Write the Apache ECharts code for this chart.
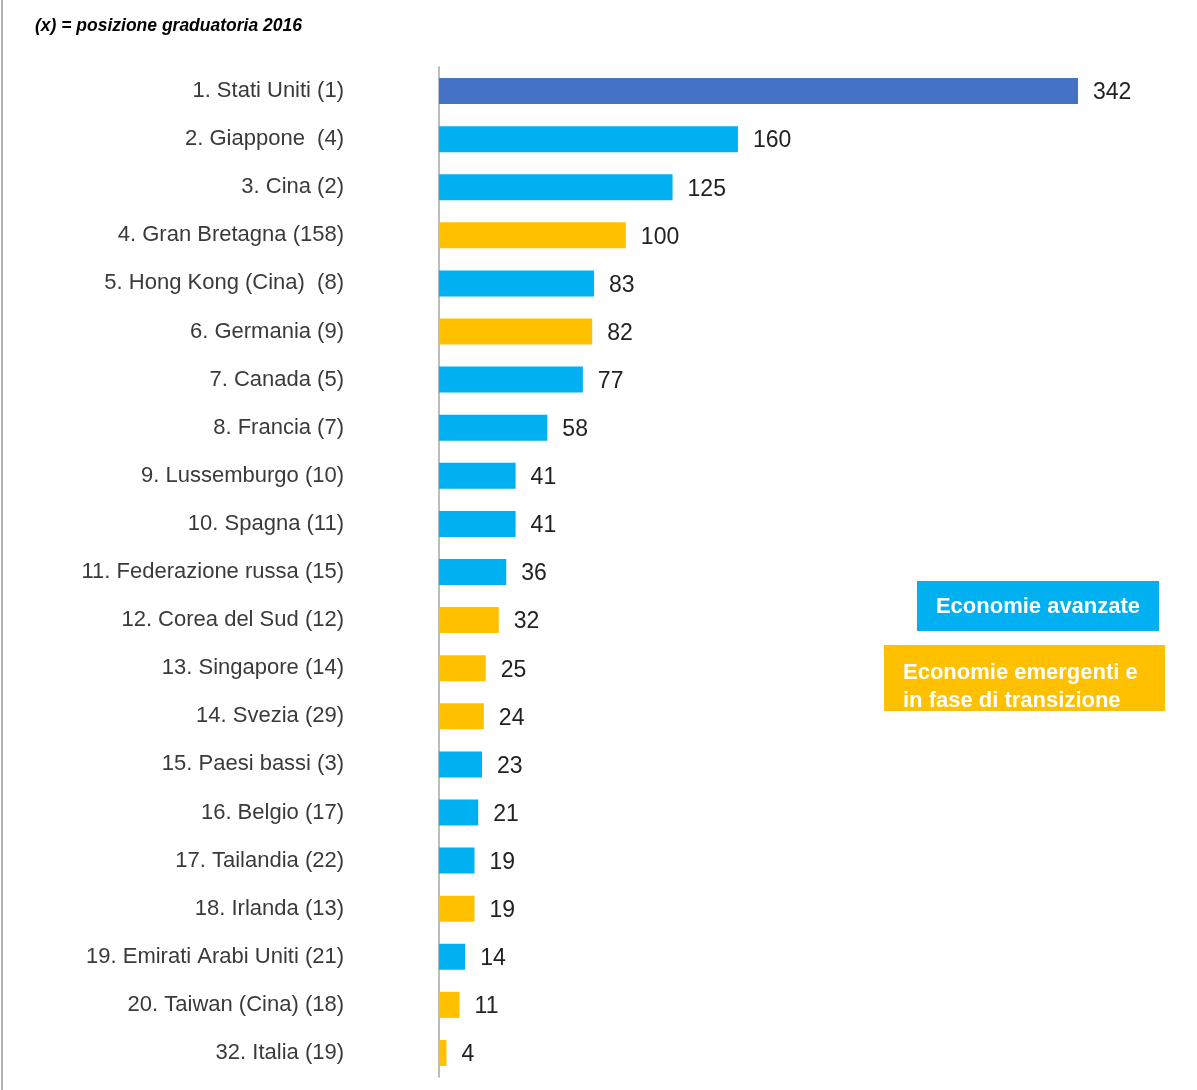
<!DOCTYPE html>
<html>
<head>
<meta charset="utf-8">
<script src="https://cdn.jsdelivr.net/npm/echarts@6/dist/echarts.min.js"></script>
<style>
  html, body { margin: 0; padding: 0; background: #fff; }
  #chart { width: 1197px; height: 1090px; }
</style>
</head>
<body>
<div id="chart"></div>
<script>
var categories = [
    '1. Stati Uniti (1)', '2. Giappone  (4)', '3. Cina (2)', '4. Gran Bretagna (158)',
    '5. Hong Kong (Cina)  (8)', '6. Germania (9)', '7. Canada (5)', '8. Francia (7)',
    '9. Lussemburgo (10)', '10. Spagna (11)', '11. Federazione russa (15)', '12. Corea del Sud (12)',
    '13. Singapore (14)', '14. Svezia (29)', '15. Paesi bassi (3)', '16. Belgio (17)',
    '17. Tailandia (22)', '18. Irlanda (13)', '19. Emirati Arabi Uniti (21)', '20. Taiwan (Cina) (18)',
    '32. Italia (19)'
];
var values = [342, 160, 125, 100, 83, 82, 77, 58, 41, 41, 36, 32, 25, 24, 23, 21, 19, 19, 14, 11, 4];
// gruppo: 0 = primo, 1 = economie avanzate, 2 = emergenti
var groups = [0, 1, 1, 2, 1, 2, 1, 1, 1, 1, 1, 2, 2, 2, 1, 1, 1, 2, 1, 2, 2];
var legendLabels = ['Economie avanzate', 'Economie emergenti e\nin fase di transizione'];

var colors = ['#4472C4', '#00B0F0', '#FFC000'];
var font = '"Liberation Sans Narrow", "Arial Narrow", "Liberation Sans", Arial, sans-serif';

var dom = document.getElementById('chart');
var myChart = echarts.init(dom);

var barData = values.map(function (v, i) {
    return { value: v, itemStyle: { color: colors[groups[i]] } };
});

option = {
    animation: false,
    grid: { left: 439, top: 67, width: 639, height: 1010, containLabel: false },
    xAxis: {
        type: 'value',
        min: 0,
        max: 'dataMax',
        show: false
    },
    yAxis: {
        type: 'category',
        data: categories,
        inverse: true,
        axisLine: { show: true, lineStyle: { color: '#a6a6a6', width: 1.5 } },
        axisTick: { show: false },
        axisLabel: {
            margin: 95,
            fontFamily: font,
            fontSize: 22,
            color: '#3a3a3a'
        }
    },
    series: [{
        type: 'bar',
        data: barData,
        barWidth: 26,
        label: {
            show: true,
            position: 'right',
            distance: 15,
            offset: [0, 2],
            fontFamily: font,
            fontSize: 23,
            color: '#222'
        }
    }],
    graphic: [
        { type: 'line', shape: { x1: 2, y1: 0, x2: 2, y2: 1090 }, style: { stroke: '#999', lineWidth: 1.5 } },
        {
            type: 'text', left: 35, top: 17,
            style: { text: '(x) = posizione graduatoria 2016', fontFamily: font, fontSize: 17.5, fontWeight: 'bold', fontStyle: 'italic', fill: '#000' }
        },
        { type: 'rect', shape: { x: 917, y: 581, width: 242, height: 50 }, style: { fill: colors[1] } },
        {
            type: 'text', x: 1038, y: 607,
            style: { text: legendLabels[0], fontFamily: font, fontSize: 22, fontWeight: 'bold', fill: '#fff', align: 'center', verticalAlign: 'middle' }
        },
        { type: 'rect', shape: { x: 884, y: 645, width: 281, height: 66 }, style: { fill: colors[2] } },
        {
            type: 'group',
            clipPath: { type: 'rect', shape: { x: 884, y: 645, width: 281, height: 66 } },
            children: [{
                type: 'text', x: 903, y: 659,
                style: { text: legendLabels[1], fontFamily: font, fontSize: 22, fontWeight: 'bold', fill: '#fff', lineHeight: 28 }
            }]
        }
    ]
};
myChart.setOption(option);
</script>
</body>
</html>
